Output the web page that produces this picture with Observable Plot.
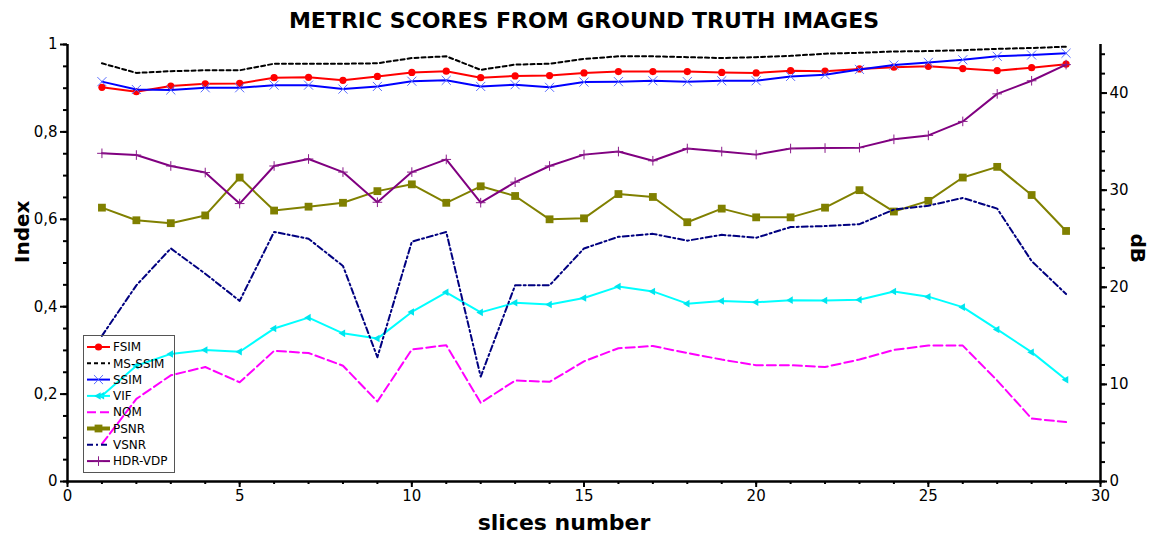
<!DOCTYPE html>
<html>
<head>
<meta charset="utf-8">
<script src="https://cdn.jsdelivr.net/npm/d3@7"></script>
<script src="https://cdn.jsdelivr.net/npm/@observablehq/plot@0.6"></script>
<style>
  html, body { margin: 0; padding: 0; background: #fff; }
  #wrap { position: relative; width: 1156px; height: 537px; }
  #legend { position: absolute; left: 83px; top: 335px; }
</style>
</head>
<body>
<div id="wrap"></div>
<script>
// ---------- data ----------
const slices = [1,2,3,4,5,6,7,8,9,10,11,12,13,14,15,16,17,18,19,20,21,22,23,24,25,26,27,28,29];

const FSIM   = [0.902,0.892,0.905,0.910,0.911,0.924,0.925,0.918,0.927,0.936,0.939,0.924,0.928,0.929,0.935,0.938,0.938,0.938,0.936,0.935,0.940,0.939,0.944,0.948,0.950,0.945,0.940,0.947,0.955];
const MSSSIM = [0.957,0.935,0.939,0.941,0.941,0.956,0.956,0.956,0.957,0.969,0.973,0.942,0.954,0.956,0.967,0.973,0.973,0.971,0.969,0.971,0.974,0.979,0.981,0.984,0.985,0.987,0.990,0.992,0.995];
const SSIM   = [0.915,0.897,0.896,0.901,0.901,0.907,0.907,0.898,0.904,0.916,0.918,0.904,0.908,0.902,0.914,0.915,0.917,0.915,0.917,0.917,0.927,0.931,0.943,0.953,0.959,0.965,0.973,0.976,0.980];
const VIF    = [0.196,0.265,0.292,0.301,0.297,0.350,0.375,0.339,0.327,0.388,0.433,0.387,0.409,0.405,0.420,0.446,0.435,0.407,0.413,0.410,0.415,0.414,0.416,0.435,0.423,0.399,0.348,0.296,0.233];
const NQM    = [0.086,0.189,0.243,0.262,0.227,0.299,0.294,0.265,0.183,0.302,0.312,0.180,0.231,0.228,0.275,0.305,0.310,0.294,0.279,0.266,0.266,0.262,0.279,0.301,0.311,0.311,0.231,0.144,0.136];
const PSNR_dB = [28.2,26.9,26.6,27.4,31.3,27.9,28.3,28.7,29.9,30.6,28.7,30.4,29.4,27.0,27.1,29.6,29.3,26.7,28.1,27.2,27.2,28.2,30.0,27.8,28.9,31.3,32.4,29.5,25.8];
const VSNR_dB = [15.0,20.2,24.0,21.4,18.6,25.7,25.0,22.2,12.8,24.7,25.7,10.8,20.2,20.2,24.0,25.2,25.5,24.8,25.4,25.1,26.2,26.3,26.5,28.0,28.4,29.2,28.1,22.7,19.3];
const HDRVDP = [0.751,0.747,0.722,0.707,0.636,0.722,0.738,0.708,0.639,0.708,0.737,0.638,0.685,0.722,0.748,0.755,0.734,0.762,0.755,0.748,0.762,0.763,0.764,0.783,0.792,0.824,0.887,0.917,0.954];

const seriesNames = ["FSIM","MS-SSIM","SSIM","VIF","NQM","PSNR","VSNR","HDR-VDP"];
const xTicks = [0,5,10,15,20,25,30];
const indexTicks = [0,0.2,0.4,0.6,0.8,1];
const dBTicks = [0,10,20,30,40];
const dBMax = 45;

const titleText = "METRIC SCORES FROM GROUND TRUTH IMAGES";
const xLabel = "slices number";
const yLabel = "Index";
const y2Label = "dB";

// ---------- build ----------
const seriesData = {
  "FSIM": {values: FSIM, dB: false},
  "MS-SSIM": {values: MSSSIM, dB: false},
  "SSIM": {values: SSIM, dB: false},
  "VIF": {values: VIF, dB: false},
  "NQM": {values: NQM, dB: false},
  "PSNR": {values: PSNR_dB, dB: true},
  "VSNR": {values: VSNR_dB, dB: true},
  "HDR-VDP": {values: HDRVDP, dB: false}
};

const styles = {
  "FSIM":    {color:"#ff0000", dash:null,      marker:{symbol:"circle", fill:"#ff0000", r:3.6}},
  "MS-SSIM": {color:"#000000", dash:"4,3",     marker:null},
  "SSIM":    {color:"#0000ff", dash:null,      marker:{symbol:"times", stroke:"#5b6dff", r:4.2, sw:1}},
  "VIF":     {color:"#00ffff", dash:null,      marker:{symbol:"triangle", fill:"#00e5ee", r:2.8, rotate:-90}},
  "NQM":     {color:"#ff00ff", dash:"9,4",     marker:null},
  "PSNR":    {color:"#808000", dash:null,      marker:{symbol:"square", fill:"#808000", r:4.4}},
  "VSNR":    {color:"#000080", dash:"6,3,2,3", marker:null},
  "HDR-VDP": {color:"#800080", dash:null,      marker:{symbol:"plus", stroke:"#8a1a8a", r:3.2, sw:1}}
};

const rowsOf = name => {
  const s = seriesData[name];
  return slices.map((x, i) => ({slice: x, value: s.dB ? s.values[i] / dBMax : s.values[i]}));
};

const fmtIndex = d => d3.format("~g")(d).replace(".", ",");
const minorIndex = d3.range(0, 1.0001, 0.05);
const minorDB = d3.range(0, dBMax, 2).map(d => d / dBMax);
const minorX = d3.range(0, 31, 1);

const marks = [];
// minor ticks
marks.push(Plot.axisY(minorIndex, {anchor:"left", tickSize:4, strokeWidth:2, tickFormat: () => "", label:null}));
marks.push(Plot.axisY(minorDB, {anchor:"right", tickSize:4, strokeWidth:2, tickFormat: () => "", label:null}));
marks.push(Plot.axisX(minorX, {anchor:"bottom", tickSize:3, strokeWidth:2, tickFormat: () => "", label:null}));
// major ticks + labels
marks.push(Plot.axisY(indexTicks, {anchor:"left", tickSize:7, tickPadding:3, strokeWidth:2, tickFormat: fmtIndex, fontSize:15, label:null}));
marks.push(Plot.axisY(dBTicks.map(d => d / dBMax), {anchor:"right", tickSize:6, tickPadding:3, strokeWidth:2, tickFormat: d => String(Math.round(d * dBMax)), fontSize:15, label:null}));
marks.push(Plot.axisX(xTicks, {anchor:"bottom", tickSize:6, tickPadding:3, strokeWidth:2, tickFormat: d => String(d), fontSize:15, label:null}));
// axis lines
marks.push(Plot.ruleX([0, 30], {stroke:"#000", strokeWidth:2.5}));
marks.push(Plot.ruleY([0], {stroke:"#000", strokeWidth:2.5}));

// series
for (const name of seriesNames) {
  const st = styles[name];
  const rows = rowsOf(name);
  marks.push(Plot.line(rows, {x:"slice", y:"value", stroke: st.color, strokeWidth:2, strokeDasharray: st.dash || undefined}));
  if (st.marker) {
    const m = st.marker;
    marks.push(Plot.dot(rows, {
      x:"slice", y:"value", symbol: m.symbol, r: m.r,
      fill: m.fill || "none", stroke: m.stroke || "none", strokeWidth: m.sw || 1,
      rotate: m.rotate || 0
    }));
  }
}

// titles
marks.push(Plot.text([titleText], {text: d => d, frameAnchor:"top", lineAnchor:"middle", dy:-24, fontSize:22, fontWeight:"bold", fill:"#000"}));
marks.push(Plot.text([yLabel], {text: d => d, frameAnchor:"left", dx:-45, rotate:-90, fontSize:20, fontWeight:"bold", fill:"#000"}));
marks.push(Plot.text([y2Label], {text: d => d, frameAnchor:"right", dx:37, rotate:90, fontSize:20, fontWeight:"bold", fill:"#000"}));
marks.push(Plot.text([xLabel], {text: d => d, frameAnchor:"bottom", lineAnchor:"middle", dx:-20, dy:41, fontSize:22, fontWeight:"bold", fill:"#000"}));

const chart = Plot.plot({
  width: 1156, height: 537,
  marginLeft: 67, marginRight: 56, marginTop: 44, marginBottom: 56,
  x: {domain:[0,30], axis:null},
  y: {domain:[0,1], axis:null},
  style: {fontFamily:"'DejaVu Sans', Verdana, sans-serif", fontSize:"15px", color:"#000", background:"#fff"},
  marks
});
document.getElementById("wrap").appendChild(chart);

// ---------- legend (overlay) ----------
const lg = d3.select("#wrap").append("svg").attr("id","legend")
  .attr("width", 92).attr("height", 138)
  .style("font-family","'DejaVu Sans', Verdana, sans-serif").style("font-size","12px");
lg.append("rect").attr("x",0.5).attr("y",0.5).attr("width",91).attr("height",137)
  .attr("fill","none").attr("stroke","#555").attr("stroke-width",1);
const symMap = {circle: d3.symbolCircle, times: d3.symbolTimes, triangle: d3.symbolTriangle, square: d3.symbolSquare, plus: d3.symbolPlus};
seriesNames.forEach((name, i) => {
  const st = styles[name];
  const cy = 12 + i * 16.3;
  const g = lg.append("g");
  g.append("line").attr("x1",4).attr("x2",27).attr("y1",cy).attr("y2",cy)
    .attr("stroke", st.color).attr("stroke-width", name === "PSNR" ? 4 : 2)
    .attr("stroke-dasharray", st.dash || null);
  if (st.marker) {
    const m = st.marker;
    g.append("path").attr("d", d3.symbol(symMap[m.symbol], Math.PI * m.r * m.r)())
      .attr("transform", `translate(15.5,${cy}) rotate(${m.rotate || 0})`)
      .attr("fill", m.fill || "none").attr("stroke", m.stroke || "none").attr("stroke-width", m.sw || 1);
  }
  g.append("text").attr("x", 30).attr("y", cy).attr("dy","0.35em").attr("fill","#000").text(name);
});
</script>
</body>
</html>
